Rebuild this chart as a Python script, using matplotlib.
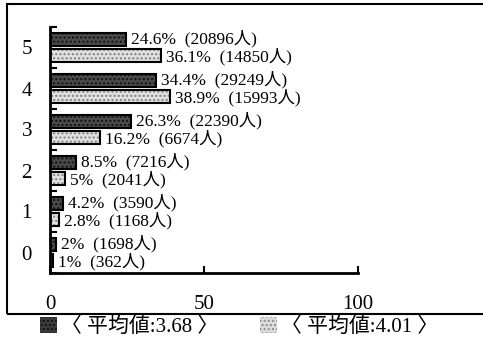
import matplotlib
matplotlib.use("Agg")
import matplotlib.pyplot as plt
from matplotlib.patches import Rectangle, Patch

# ── データ ──────────────────────────────────────────────
scores = [0, 1, 2, 3, 4, 5]
dark_pct = [2, 4.2, 8.5, 26.3, 34.4, 24.6]
dark_n = [1698, 3590, 7216, 22390, 29249, 20896]
light_pct = [1, 2.8, 5, 16.2, 38.9, 36.1]
light_n = [362, 1168, 2041, 6674, 15993, 14850]
legend_labels = ["〈 平均値:3.68 〉", "〈 平均値:4.01 〉"]
x_ticks = [0, 50, 100]

FONT = ["Liberation Serif", "Noto Sans CJK JP", "DejaVu Sans"]
plt.rcParams["font.family"] = FONT

fig = plt.figure(figsize=(4.83, 3.49), dpi=100)
ax = fig.add_axes([50 / 483, 1 - 273 / 349, 308 / 483, 246 / 349])

off, h = 0.19, 0.33
y_dark = [s + off for s in scores]
y_light = [s - off for s in scores]

# 塗り（網掛け）
ax.barh(y_dark, dark_pct, height=h, color="#4a4a4a", hatch="....",
        edgecolor="#111111", linewidth=0)
ax.barh(y_light, light_pct, height=h, color="#e0e0e0", hatch="....",
        edgecolor="#808080", linewidth=0)
# 枠線
ax.barh(y_dark, dark_pct, height=h, fill=False, edgecolor="black", linewidth=1.5)
ax.barh(y_light, light_pct, height=h, fill=False, edgecolor="black", linewidth=1.5)

for y, p, n in zip(y_dark, dark_pct, dark_n):
    ax.text(p + 1.6, y + 0.02, f"{p:g}%  ({n}人)", va="center", ha="left", fontsize=12.5)
for y, p, n in zip(y_light, light_pct, light_n):
    ax.text(p + 1.6, y - 0.02, f"{p:g}%  ({n}人)", va="center", ha="left", fontsize=12.5)

ax.set_xlim(0, 100)
ax.set_ylim(-0.5, 5.5)
ax.set_xticks(x_ticks)
ax.set_xticklabels([str(t) for t in x_ticks], fontsize=15)
ax.set_yticks(scores)
ax.set_yticklabels([str(s) for s in scores], fontsize=15)
ax.set_yticks([s - 0.5 for s in scores] + [5.5], minor=True)
ax.tick_params(axis="y", which="major", length=0, pad=13)
ax.tick_params(axis="y", which="minor", direction="in", length=5, width=1.5)
ax.tick_params(axis="x", direction="in", length=5, width=1.5, pad=16)

for side in ("top", "right"):
    ax.spines[side].set_visible(False)
for side in ("left", "bottom"):
    ax.spines[side].set_linewidth(2)

# 外枠
fig.add_artist(Rectangle((7 / 483, 1 - 314 / 349), 1.2, 310 / 349,
                         transform=fig.transFigure, fill=False,
                         edgecolor="black", linewidth=1.5, clip_on=False))

handles = [Patch(facecolor="#3a3a3a", hatch="....", edgecolor="#111111", linewidth=0),
           Patch(facecolor="#dcdcdc", hatch="....", edgecolor="#8a8a8a", linewidth=0)]
fig.legend(handles, legend_labels, ncol=2, loc="center", bbox_to_anchor=(0.495, 1 - 327 / 349),
           frameon=False, fontsize=15, handlelength=0.8, handleheight=0.8,
           handletextpad=0.2, columnspacing=2.0, borderaxespad=0, borderpad=0)

fig.savefig("out.png", dpi=100)
